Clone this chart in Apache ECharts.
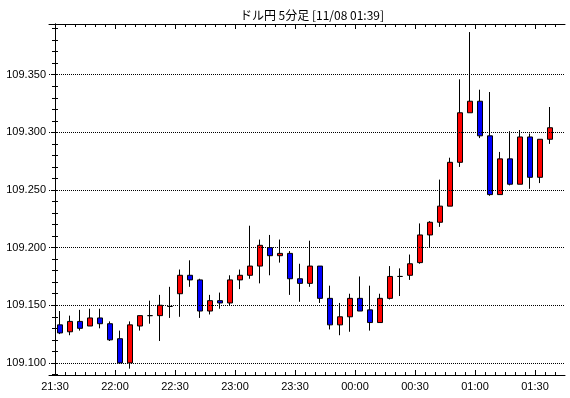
<!DOCTYPE html>
<html>
<head>
<meta charset="utf-8">
<script src="https://cdn.jsdelivr.net/npm/echarts@6/dist/echarts.min.js"></script>
<style>
  html, body { margin: 0; padding: 0; background: #fff; }
  #chart { width: 570px; height: 398px; }
</style>
</head>
<body>
<div id="chart"></div>
<script>
// 5分足 ドル円 (21:30 - 01:35)
var timeLabels = ['21:30', '22:00', '22:30', '23:00', '23:30', '00:00', '00:30', '01:00', '01:30'];
var priceLabels = [109.10, 109.15, 109.20, 109.25, 109.30, 109.35];

var opens = [109.133, 109.127, 109.136, 109.132, 109.139, 109.134, 109.121, 109.100, 109.132, 109.141,
             109.141, 109.149, 109.160, 109.176, 109.172, 109.145, 109.154, 109.152, 109.172, 109.176,
             109.184, 109.200, 109.193, 109.195, 109.173, 109.169, 109.184, 109.156, 109.133, 109.140,
             109.156, 109.146, 109.135, 109.156, 109.175, 109.176, 109.187, 109.211, 109.222, 109.236,
             109.274, 109.317, 109.327, 109.297, 109.246, 109.277, 109.255, 109.296, 109.261, 109.294];
var closes = [109.126, 109.136, 109.130, 109.139, 109.134, 109.120, 109.100, 109.133, 109.141, 109.141,
              109.150, 109.149, 109.176, 109.172, 109.145, 109.154, 109.152, 109.172, 109.176, 109.184,
              109.202, 109.193, 109.195, 109.173, 109.169, 109.184, 109.156, 109.133, 109.140, 109.156,
              109.145, 109.135, 109.156, 109.175, 109.175, 109.186, 109.211, 109.222, 109.236, 109.274,
              109.317, 109.327, 109.297, 109.246, 109.277, 109.255, 109.296, 109.261, 109.294, 109.304];
var lows = [109.125, 109.124, 109.128, 109.132, 109.130, 109.119, 109.100, 109.095, 109.128, 109.134,
            109.119, 109.139, 109.140, 109.166, 109.139, 109.142, 109.147, 109.150, 109.164, 109.173,
            109.169, 109.176, 109.187, 109.159, 109.153, 109.166, 109.152, 109.129, 109.124, 109.127,
            109.145, 109.128, 109.135, 109.155, 109.158, 109.172, 109.186, 109.200, 109.218, 109.236,
            109.270, 109.317, 109.295, 109.245, 109.246, 109.254, 109.255, 109.251, 109.256, 109.290];
var highs = [109.145, 109.141, 109.146, 109.147, 109.147, 109.136, 109.128, 109.136, 109.141, 109.154,
             109.159, 109.166, 109.181, 109.189, 109.173, 109.159, 109.161, 109.176, 109.181, 109.219,
             109.207, 109.211, 109.207, 109.197, 109.186, 109.206, 109.184, 109.167, 109.152, 109.160,
             109.175, 109.167, 109.160, 109.184, 109.182, 109.194, 109.221, 109.223, 109.259, 109.278,
             109.346, 109.387, 109.337, 109.335, 109.283, 109.301, 109.302, 109.299, 109.294, 109.322];

var chart = echarts.init(document.getElementById('chart'));

// minutes from 21:30, candle drawn in the middle of its 5 minute slot
var candles = [];
for (var i = 0; i < opens.length; i++) {
    candles.push([i * 5 + 2.5, opens[i], closes[i], lows[i], highs[i]]);
}

var majorTicks = timeLabels.map(function (s, k) { return k * 30; });
var minorTicks = [];
for (var m = 5; m < 255; m += 5) minorTicks.push(m);
var priceTicks = [];
for (var p = 10909; p <= 10939; p++) priceTicks.push(p / 100);

var xMin = -3, xMax = 255;
var yMin = 109.0895, yMax = 109.394;
var fontFam = '"Liberation Sans", Arial, sans-serif';

function xAxisOf(pos, ticks, len, withLine, withLabel) {
    return {
        type: 'value', position: pos, min: xMin, max: xMax,
        axisLine: { show: withLine, onZero: false, lineStyle: { color: '#000', width: 1 } },
        axisTick: { show: true, inside: true, length: len, customValues: ticks, lineStyle: { color: '#000' } },
        axisLabel: {
            show: withLabel, customValues: majorTicks, margin: 6,
            color: '#000', fontSize: 11, fontFamily: fontFam,
            formatter: function (v) { return timeLabels[Math.round(v / 30)]; }
        },
        splitLine: { show: false }
    };
}

option = {
    animation: false,
    title: {
        text: 'ドル円 5分足 [11/08 01:39]',
        left: 307, top: 4, textAlign: 'center',
        textStyle: { fontSize: 12, fontWeight: 'normal', color: '#000', fontFamily: '"Noto Sans CJK JP", sans-serif' }
    },
    grid: { left: 49, right: 5, top: 24, bottom: 23 },
    xAxis: [
        xAxisOf('bottom', majorTicks, 5, true, true),
        xAxisOf('bottom', minorTicks, 3, false, false),
        xAxisOf('top', majorTicks, 5, true, false),
        xAxisOf('top', minorTicks, 3, false, false)
    ],
    yAxis: [
        {
            type: 'value', position: 'left', min: yMin, max: yMax, scale: true,
            axisLine: { show: true, lineStyle: { color: '#000' } },
            axisTick: { show: true, inside: true, length: 3, customValues: priceTicks, lineStyle: { color: '#000' } },
            axisLabel: {
                customValues: priceLabels, margin: 3, color: '#000', fontSize: 11, fontFamily: fontFam,
                formatter: function (v) { return v.toFixed(3); }
            },
            splitLine: { show: false }
        },
        {
            type: 'value', position: 'right', min: yMin, max: yMax, scale: true,
            axisLine: { show: true, lineStyle: { color: '#000' } },
            axisTick: { show: true, inside: true, length: 3, customValues: priceTicks, lineStyle: { color: '#000' } },
            axisLabel: { show: false },
            splitLine: { show: false }
        }
    ],
    series: [
        {
            // 点線の目盛線
            type: 'line', data: [], z: 1, silent: true,
            markLine: {
                silent: true, symbol: 'none', animation: false,
                label: { show: false },
                lineStyle: { color: '#000', width: 1, type: [1, 1] },
                data: priceLabels.map(function (v) { return { yAxis: v }; })
            }
        },
        {
            type: 'candlestick', z: 3,
            barWidth: 6,
            encode: { x: 0, y: [1, 2, 3, 4] },
            itemStyle: {
                color: '#ff0000', color0: '#0000ff',
                borderColor: '#000', borderColor0: '#000', borderColorDoji: '#000', borderWidth: 1
            },
            data: candles
        }
    ]
};

chart.setOption(option);
</script>
</body>
</html>
